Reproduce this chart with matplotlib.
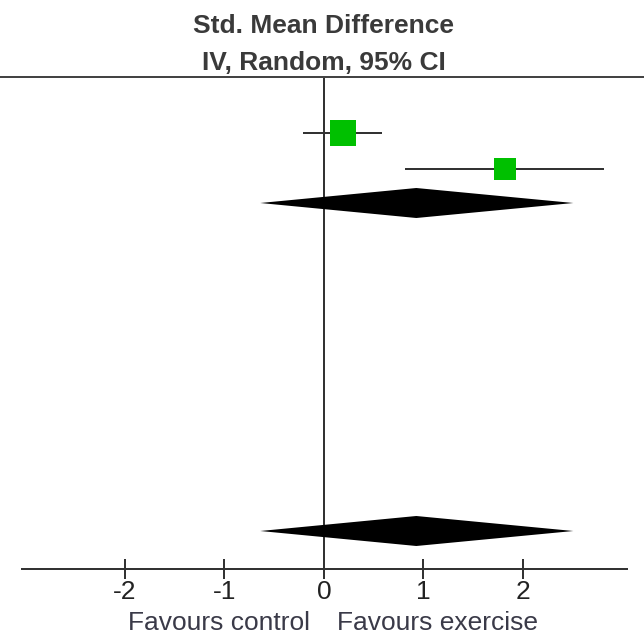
import numpy as np
import matplotlib
matplotlib.use('Agg')
import matplotlib.pyplot as plt
from matplotlib.lines import Line2D

# study estimates (std. mean difference, 95% CI)
study_est = [0.19, 1.82]
study_low = [-0.21, 0.82]
study_high = [0.59, 2.82]
study_weight = [56.4, 43.6]

# pooled estimates (subtotal and total)
pooled_est = [0.93, 0.93]
pooled_low = [-0.64, -0.64]
pooled_high = [2.51, 2.51]

xticks = [-2, -1, 0, 1, 2]
xtick_labels = ['-2', '-1', '0', '1', '2']

# layout: vertical positions in pixels below the header rule
STUDY_ROWS = [55.5, 92]
POOLED_ROWS = [126, 454]
DIAMOND_HALF = 15
PANEL_H = 492

W, H = 644, 635
DPI = 100
fig = plt.figure(figsize=(W / DPI, H / DPI), dpi=DPI)
fig.patch.set_facecolor('white')

ax_left, ax_right = 21.7, 627
ax_top, ax_bottom = 77, 569
ax = fig.add_axes([ax_left / W, (H - ax_bottom) / H,
                   (ax_right - ax_left) / W, (ax_bottom - ax_top) / H])
ax.set_xlim(-3.04, 3.05)
ax.set_ylim(PANEL_H, 0)

line_col = '#333333'
px = 72 / DPI  # points per pixel

# zero line
ax.axvline(0, color=line_col, lw=2 * px, zorder=1)

# studies
for est, lo, hi, w, y in zip(study_est, study_low, study_high, study_weight, STUDY_ROWS):
    ax.plot([lo, hi], [y, y], color=line_col, lw=2 * px, solid_capstyle='butt', zorder=2)
    side = 34 * np.sqrt(w / 100)
    ax.plot(est, y, marker='s', markersize=side * px, color='#00c000',
            markeredgecolor='#00c000', markeredgewidth=0, zorder=3)

# pooled diamonds
for est, lo, hi, y in zip(pooled_est, pooled_low, pooled_high, POOLED_ROWS):
    ax.fill([lo, est, hi, est], [y, y - DIAMOND_HALF, y, y + DIAMOND_HALF],
            color='black', lw=0, zorder=3)

for s in ['top', 'left', 'right']:
    ax.spines[s].set_visible(False)
ax.spines['bottom'].set_color(line_col)
ax.spines['bottom'].set_linewidth(2 * px)
ax.set_yticks([])
ax.set_xticks(xticks)
ax.set_xticklabels(xtick_labels)
ax.tick_params(axis='x', direction='inout', length=20 * px, width=2 * px,
               color=line_col, pad=1, labelsize=19, labelcolor='#222222')
for lab in ax.get_xticklabels():
    lab.set_fontfamily(['Liberation Sans', 'DejaVu Sans'])

# header rule across the full width
fig.add_artist(Line2D([0, 1], [(H - ax_top) / H] * 2, color='#444444',
                      lw=2 * px, transform=fig.transFigure))

title_x = 324 / W
fig.text(title_x, (H - 33) / H, 'Std. Mean Difference', ha='center', va='baseline',
         fontsize=19, fontweight='bold', color='#3a3a3a',
         family=['Liberation Sans', 'DejaVu Sans'])
fig.text(title_x, (H - 70) / H, 'IV, Random, 95% CI', ha='center', va='baseline',
         fontsize=19, fontweight='bold', color='#3a3a3a',
         family=['Liberation Sans', 'DejaVu Sans'])

ax.annotate('Favours control', xy=(0, 0), xycoords=('data', 'axes fraction'),
            xytext=(-14, -61), textcoords='offset pixels', ha='right', va='baseline',
            fontsize=19, color='#3a3a48', family=['Liberation Sans', 'DejaVu Sans'])
ax.annotate('Favours exercise', xy=(0, 0), xycoords=('data', 'axes fraction'),
            xytext=(13, -61), textcoords='offset pixels', ha='left', va='baseline',
            fontsize=19, color='#3a3a48', family=['Liberation Sans', 'DejaVu Sans'])

fig.savefig('out.png', dpi=DPI)
